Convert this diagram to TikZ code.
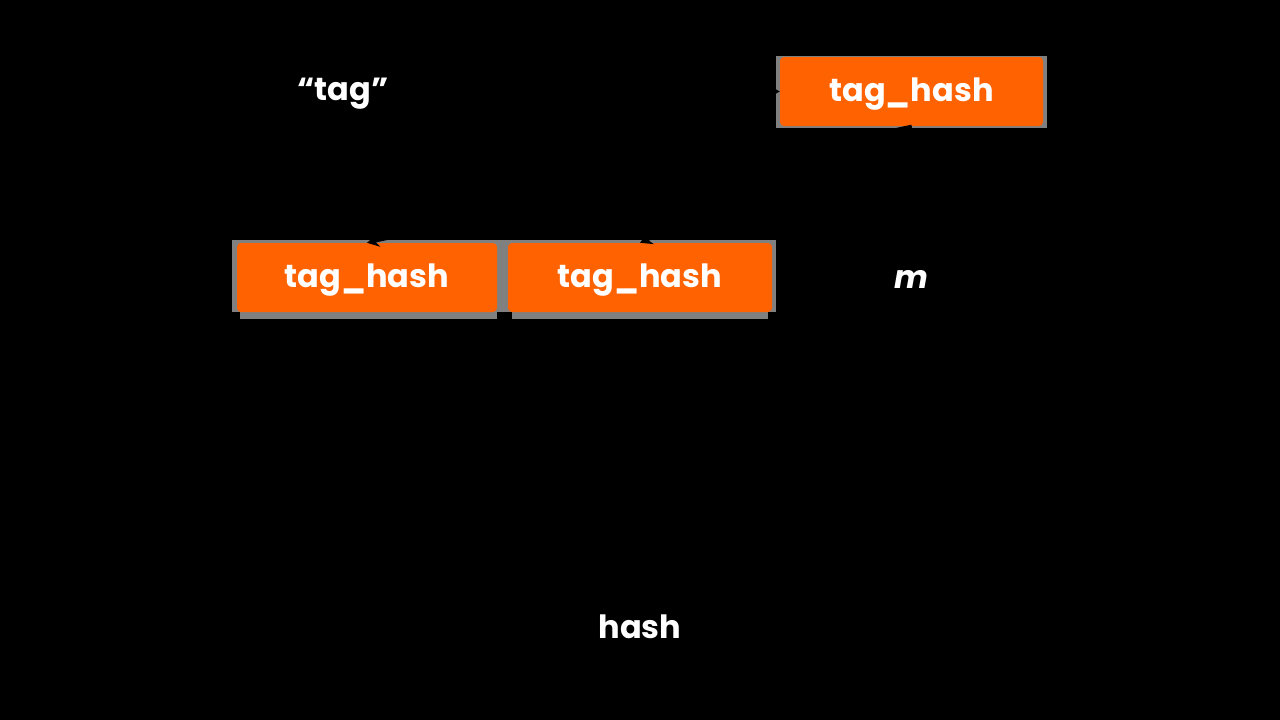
\documentclass[tikz,border=0pt]{standalone}
\usepackage{fontspec}
\setmainfont{Poppins}
\usetikzlibrary{arrows.meta}
\definecolor{boxorange}{HTML}{FF6200}
\definecolor{boxgray}{HTML}{808080}
\tikzset{
  lbl/.style={text=white, inner sep=0pt, text height=24pt, text depth=4pt, font=\bfseries\fontsize{32}{38}\selectfont},
  hbox/.style={lbl, fill=boxorange, rounded corners=4pt, minimum height=69pt},
  arr/.style={draw=black, line width=3pt, -{Stealth[length=12pt,width=13pt]}},
}
\begin{document}
\begin{tikzpicture}[x=1pt,y=-1pt]
\fill[black] (0,0) rectangle (1280,720);
\useasboundingbox (0,0) rectangle (1280,720);
% gray frames
\fill[boxgray] (776,56) rectangle (1047,128);
\fill[boxgray] (232,240) rectangle (500,312);
\fill[boxgray] (240,300) rectangle (497,319);
\fill[boxgray] (500,240) rectangle (776,312);
\fill[boxgray] (512,300) rectangle (768,319);
% nodes
\node[hbox, minimum width=263pt] (b1) at (911.5,91.5) {tag\_hash};
\node[hbox, minimum width=260pt] (b2) at (367,277.5) {tag\_hash};
\node[hbox, minimum width=264pt] (b3) at (640,277.5) {tag\_hash};
\node[lbl] (tag) at (343,90) {“tag”};
\node[lbl, font=\bfseries\itshape\fontsize{32}{38}\selectfont] (m) at (911,278) {m};
\node[lbl] (hash) at (640,628) {hash};
% connectors
\draw[arr] (tag) -- (b1.west);
\draw[arr] (b1.south) -- (b2.north);
\draw[arr] (b1.south) -- (b3.north);
\end{tikzpicture}
\end{document}
